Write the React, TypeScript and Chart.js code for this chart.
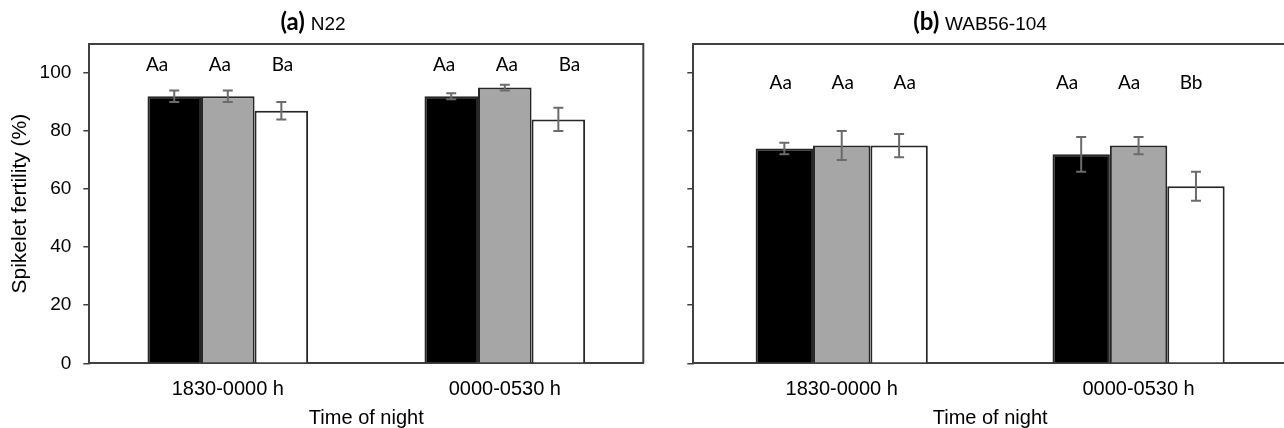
import React, { useEffect, useRef } from 'react';
import { Chart, registerables } from 'chart.js';

Chart.register(...registerables);

// ---- data ----
const categories = ['1830-0000 h', '0000-0530 h'];
const yTicks = [0, 20, 40, 60, 80, 100];
const seriesNames = ['Treatment 1', 'Treatment 2', 'Treatment 3'];

// (a) N22
const n22Black = [92, 92];
const n22Gray = [92, 95];
const n22White = [87, 84];
const n22BlackErr = [2, 1];
const n22GrayErr = [2, 1];
const n22WhiteErr = [3, 4];
const n22BlackLetters = ['Aa', 'Aa'];
const n22GrayLetters = ['Aa', 'Aa'];
const n22WhiteLetters = ['Ba', 'Ba'];

// (b) WAB56-104
const wabBlack = [74, 72];
const wabGray = [75, 75];
const wabWhite = [75, 61];
const wabBlackErr = [2, 6];
const wabGrayErr = [5, 3];
const wabWhiteErr = [4, 5];
const wabBlackLetters = ['Aa', 'Aa'];
const wabGrayLetters = ['Aa', 'Aa'];
const wabWhiteLetters = ['Aa', 'Bb'];

const yTitle = 'Spikelet fertility (%)';
const xTitle = 'Time of night';

// ---- styles ----
const FILLS = ['#000000', '#a6a6a6', '#ffffff'];
const AXIS = '#404040';
const TICK_FONT = { family: '"Liberation Sans", Arial, sans-serif', size: 19 };
const YTITLE_FONT = { family: '"Liberation Sans", Arial, sans-serif', size: 21 };
const XTICK_FONT = { family: '"Liberation Sans", Arial, sans-serif', size: 20 };

const panelPlugin = {
  id: 'panelDecor',
  afterDatasetsDraw(chart: any, _args: any, opts: any) {
    const ctx = chart.ctx;
    const { left, right, top, bottom } = chart.chartArea;
    const xs = chart.scales.x;
    const ys = chart.scales.y;
    ctx.save();
    // error bars
    ctx.strokeStyle = '#6b6b6b';
    ctx.lineWidth = 2;
    chart.data.datasets.forEach((ds: any, di: number) => {
      const meta = chart.getDatasetMeta(di);
      meta.data.forEach((bar: any, i: number) => {
        const v = ds.data[i];
        const e = ds.errors[i];
        const yH = ys.getPixelForValue(v + e);
        const yL = ys.getPixelForValue(v - e);
        const x = bar.x;
        ctx.beginPath();
        ctx.moveTo(x, yH);
        ctx.lineTo(x, yL);
        ctx.moveTo(x - 5, yH);
        ctx.lineTo(x + 5, yH);
        ctx.moveTo(x - 5, yL);
        ctx.lineTo(x + 5, yL);
        ctx.stroke();
      });
    });
    // significance letters
    ctx.fillStyle = '#000';
    ctx.font = '19px Lato, "Open Sans", sans-serif';
    ctx.textAlign = 'center';
    ctx.textBaseline = 'alphabetic';
    const ly = ys.getPixelForValue(opts.letterLevel);
    chart.data.datasets.forEach((ds: any, di: number) => {
      const meta = chart.getDatasetMeta(di);
      meta.data.forEach((bar: any, i: number) => {
        const gc = xs.getPixelForValue(i);
        const x = gc + (bar.x - gc) * opts.spread + opts.dx[i];
        ctx.fillText(ds.letters[i], x, ly);
      });
    });
    // frame (top + right)
    ctx.strokeStyle = AXIS;
    ctx.lineWidth = 2;
    ctx.beginPath();
    ctx.moveTo(left, top);
    ctx.lineTo(right, top);
    ctx.lineTo(right, bottom);
    ctx.stroke();
    // panel title
    const boldFont = 'bold 24px Lato, sans-serif';
    const restFont = '19px "Liberation Sans", Arial, sans-serif';
    ctx.textAlign = 'left';
    ctx.fillStyle = '#000';
    ctx.font = boldFont;
    const w1 = ctx.measureText(opts.titleBold + ' ').width;
    ctx.font = restFont;
    const w2 = ctx.measureText(opts.titleRest).width;
    const x0 = opts.titleCx - (w1 + w2) / 2;
    ctx.font = boldFont;
    ctx.fillText(opts.titleBold, x0, 30);
    ctx.font = restFont;
    ctx.fillText(opts.titleRest, x0 + w1, 30);
    ctx.restore();
  },
};

function makeConfig(p: any): any {
  const datasets = [
    { label: seriesNames[0], data: p.black, errors: p.blackErr, letters: p.blackLetters, backgroundColor: FILLS[0] },
    { label: seriesNames[1], data: p.gray, errors: p.grayErr, letters: p.grayLetters, backgroundColor: FILLS[1] },
    { label: seriesNames[2], data: p.white, errors: p.whiteErr, letters: p.whiteLetters, backgroundColor: FILLS[2] },
  ].map((d) => ({
    ...d,
    borderColor: '#262626',
    borderWidth: 2,
    categoryPercentage: 0.58,
    barPercentage: 1,
  }));
  return {
    type: 'bar',
    data: { labels: categories, datasets },
    plugins: [panelPlugin],
    options: {
      responsive: false,
      animation: false,
      devicePixelRatio: 1,
      layout: { padding: p.padding },
      plugins: {
        legend: { display: false },
        tooltip: { enabled: false },
        title: { display: false },
        panelDecor: {
          letterLevel: p.letterLevel,
          spread: p.spread,
          dx: p.dx,
          titleBold: p.titleBold,
          titleRest: p.titleRest,
          titleCx: p.titleCx,
        },
      },
      scales: {
        x: {
          grid: { display: false },
          border: { display: true, color: AXIS, width: 2 },
          ticks: { color: '#000', font: XTICK_FONT, padding: 6.5, maxRotation: 0 },
          title: {
            display: true,
            text: xTitle,
            color: '#000',
            font: XTICK_FONT,
            padding: { top: 0, bottom: -2 },
          },
          afterFit: (s: any) => {
            s.height = p.xHeight;
          },
        },
        y: {
          min: 0,
          max: 110,
          afterBuildTicks: (s: any) => {
            s.ticks = yTicks.map((v) => ({ value: v }));
          },
          grid: {
            display: true,
            drawOnChartArea: false,
            drawTicks: true,
            tickLength: 6,
            color: AXIS,
            lineWidth: 1.5,
          },
          border: { display: true, color: AXIS, width: 2 },
          ticks: { display: p.showYLabels, color: '#000', font: TICK_FONT, padding: 12 },
          title: {
            display: p.showYLabels,
            text: yTitle,
            color: '#000',
            font: YTITLE_FONT,
            padding: { top: 8, bottom: 0 },
          },
          afterFit: (s: any) => {
            s.width = p.yWidth;
          },
        },
      },
    },
  };
}

const panelA = {
  black: n22Black, gray: n22Gray, white: n22White,
  blackErr: n22BlackErr, grayErr: n22GrayErr, whiteErr: n22WhiteErr,
  blackLetters: n22BlackLetters, grayLetters: n22GrayLetters, whiteLetters: n22WhiteLetters,
  titleBold: '(a)', titleRest: 'N22', titleCx: 313,
  letterLevel: 100.6, spread: 1.17, dx: [-8, 2],
  padding: { top: 44, right: 16.7, bottom: 0, left: 0 },
  yWidth: 89.3, xHeight: 64.7, showYLabels: true,
};

const panelB = {
  black: wabBlack, gray: wabGray, white: wabWhite,
  blackErr: wabBlackErr, grayErr: wabGrayErr, whiteErr: wabWhiteErr,
  blackLetters: wabBlackLetters, grayLetters: wabGrayLetters, whiteLetters: wabWhiteLetters,
  titleBold: '(b)', titleRest: 'WAB56-104', titleCx: 320,
  letterLevel: 94.5, spread: 1.08, dx: [1, -9.5],
  padding: { top: 44, right: 33, bottom: 0, left: 0 },
  yWidth: 33.3, xHeight: 64.7, showYLabels: false,
};

function Panel({ cfg, left }: { cfg: any; left: number }) {
  const ref = useRef<HTMLCanvasElement | null>(null);
  useEffect(() => {
    if (!ref.current) return;
    const chart = new Chart(ref.current, makeConfig(cfg));
    return () => chart.destroy();
  }, [cfg]);
  return (
    <canvas
      ref={ref}
      width={660}
      height={428}
      style={{ position: 'absolute', left, top: 0, width: 660, height: 428 }}
    />
  );
}

export default function App() {
  return (
    <div
      style={{
        position: 'fixed',
        left: 0,
        top: 0,
        width: 1284,
        height: 428,
        overflow: 'hidden',
        background: '#ffffff',
      }}
    >
      <Panel cfg={panelA} left={0} />
      <Panel cfg={panelB} left={660} />
    </div>
  );
}
